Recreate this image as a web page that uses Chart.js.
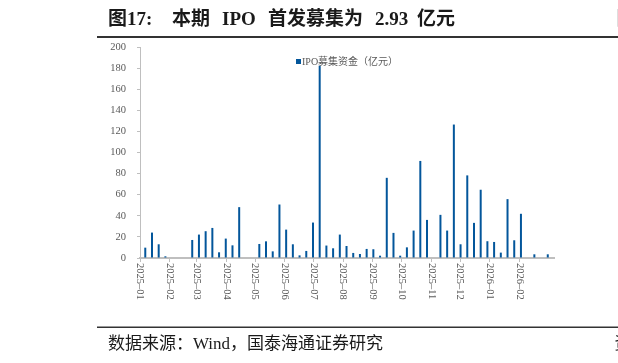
<!DOCTYPE html>
<html>
<head>
<meta charset="utf-8">
<script src="https://cdn.jsdelivr.net/npm/chart.js@4.4.1/dist/chart.umd.min.js"></script>
<style>
  html, body { margin: 0; padding: 0; background: #fff; }
</style>
</head>
<body>
<canvas id="c" width="618" height="363"></canvas>
<script>
// weekly IPO fund raising
const weekDates = [
  '2025-01-06', '2025-01-13', '2025-01-20', '2025-01-27', '2025-02-03', '2025-02-10', '2025-02-17', '2025-02-24',
  '2025-03-03', '2025-03-10', '2025-03-17', '2025-03-24', '2025-03-31', '2025-04-07', '2025-04-14', '2025-04-21',
  '2025-04-28', '2025-05-05', '2025-05-12', '2025-05-19', '2025-05-26', '2025-06-02', '2025-06-09', '2025-06-16',
  '2025-06-23', '2025-06-30', '2025-07-07', '2025-07-14', '2025-07-21', '2025-07-28', '2025-08-04', '2025-08-11',
  '2025-08-18', '2025-08-25', '2025-09-01', '2025-09-08', '2025-09-15', '2025-09-22', '2025-09-29', '2025-10-06',
  '2025-10-13', '2025-10-20', '2025-10-27', '2025-11-03', '2025-11-10', '2025-11-17', '2025-11-24', '2025-12-01',
  '2025-12-08', '2025-12-15', '2025-12-22', '2025-12-29', '2026-01-05', '2026-01-12', '2026-01-19', '2026-01-26',
  '2026-02-02', '2026-02-09', '2026-02-16', '2026-02-23', '2026-03-02'
];
const ipoAmounts = [
  9.8, 24.1, 13, 1.6, 0, 0, 0, 17.1, 22.2, 25.4,
  28.5, 5.4, 18.4, 12, 48.2, 0, 0, 13.3, 15.8, 6.3,
  50.7, 26.9, 13, 2.5, 6.7, 33.6, 182.3, 11.8, 9.2, 22.2,
  11.4, 4.8, 3.8, 8.6, 8.3, 2.2, 76, 23.8, 2.2, 10.1,
  26, 92, 36.1, 0, 40.9, 26, 126.5, 13, 78.3, 33.3,
  64.7, 15.9, 15.2, 5.1, 55.8, 16.8, 41.9, 0, 3.5, 0,
  3.5
];
const monthLabels = [
  '2025-01', '2025-02', '2025-03', '2025-04', '2025-05', '2025-06', '2025-07',
  '2025-08', '2025-09', '2025-10', '2025-11', '2025-12', '2026-01', '2026-02'
];
const yTickValues = [0, 20, 40, 60, 80, 100, 120, 140, 160, 180, 200];
const seriesName = 'IPO募集资金（亿元）';

const serif = '"Liberation Serif", "Noto Sans CJK SC", serif';
const barColor = '#03569b';
const textGray = '#595959';
const axisGray = '#bfbfbf';

// days since 2025-01-01
const origin = Date.UTC(2025, 0, 1);
function dayOf(s) {
  const p = s.split('-').map(Number);
  return (Date.UTC(p[0], p[1] - 1, p[2] || 1) - origin) / 86400000;
}

const points = weekDates.map((d, i) => ({ x: dayOf(d) + 0.5, y: ipoAmounts[i] }));
const monthValues = monthLabels.map(dayOf);

// month labels run top-to-bottom under the axis
const monthLabelPlugin = {
  id: 'monthLabels',
  afterDraw(chart) {
    const ctx = chart.ctx;
    const xs = chart.scales.x;
    ctx.save();
    ctx.font = '10.5px ' + serif;
    ctx.fillStyle = textGray;
    ctx.textAlign = 'left';
    ctx.textBaseline = 'middle';
    monthValues.forEach((v, i) => {
      ctx.save();
      ctx.translate(xs.getPixelForValue(v), xs.top + 5);
      ctx.rotate(Math.PI / 2);
      ctx.fillText(monthLabels[i].replace('-', '–'), 0, 0);
      ctx.restore();
    });
    ctx.restore();
  }
};

const legendPlugin = {
  id: 'innerLegend',
  afterDraw(chart) {
    const ctx = chart.ctx;
    const ds = chart.data.datasets[0];
    ctx.save();
    ctx.fillStyle = ds.backgroundColor;
    ctx.fillRect(296, 59, 5, 5);
    ctx.font = '10px ' + serif;
    ctx.fillStyle = textGray;
    ctx.textBaseline = 'middle';
    ctx.fillText(ds.label, 302, 62);
    ctx.restore();
  }
};

// report page bits: title, rules, source
const pagePlugin = {
  id: 'page',
  afterDraw(chart) {
    const ctx = chart.ctx;
    ctx.save();
    ctx.fillStyle = '#1a1a1a';
    ctx.font = 'bold 19px ' + serif;
    ctx.textBaseline = 'alphabetic';
    ctx.fillText('图17:', 108, 25);
    ctx.fillText('本期', 172, 25);
    ctx.fillText('IPO', 222, 25);
    ctx.fillText('首发募集为', 268, 25);
    ctx.fillText('2.93', 375, 25);
    ctx.fillText('亿元', 417, 25);
    ctx.fillText('图', 616.5, 25);
    ctx.fillStyle = '#333';
    ctx.fillRect(97, 36, 521, 2);
    ctx.fillRect(97, 326.5, 521, 1.5);
    ctx.fillStyle = '#1a1a1a';
    ctx.font = '17px ' + serif;
    ctx.fillText('数据来源：Wind，国泰海通证券研究', 108, 349);
    ctx.fillText('资', 614.5, 349);
    ctx.restore();
  }
};

new Chart(document.getElementById('c'), {
  type: 'bar',
  data: {
    datasets: [{
      label: seriesName,
      data: points,
      backgroundColor: barColor,
      barThickness: 2,
      inflateAmount: 0,
    }],
  },
  options: {
    responsive: false,
    animation: false,
    layout: {
      padding: { left: 0, top: 47, right: 64, bottom: 105 },
    },
    plugins: {
      legend: { display: false },
      tooltip: { enabled: false },
    },
    scales: {
      x: {
        type: 'linear',
        offset: false,
        min: 0,
        max: 432,
        afterBuildTicks: (s) => { s.ticks = monthValues.map(v => ({ value: v })); },
        afterFit: (s) => { s.height = 0; },
        ticks: { display: false },
        grid: { offset: false, drawOnChartArea: false, drawTicks: true, tickLength: 4, color: axisGray },
        border: { color: axisGray, width: 2 },
      },
      y: {
        min: 0,
        max: 200,
        afterBuildTicks: (s) => { s.ticks = yTickValues.map(v => ({ value: v })); },
        afterFit: (s) => { s.width = 140; },
        ticks: { font: { family: serif, size: 10.5 }, color: textGray, padding: 11 },
        grid: { drawOnChartArea: false, drawTicks: true, tickLength: 3, color: axisGray },
        border: { color: axisGray, width: 1 },
      },
    },
  },
  plugins: [monthLabelPlugin, legendPlugin, pagePlugin],
});
</script>
</body>
</html>
